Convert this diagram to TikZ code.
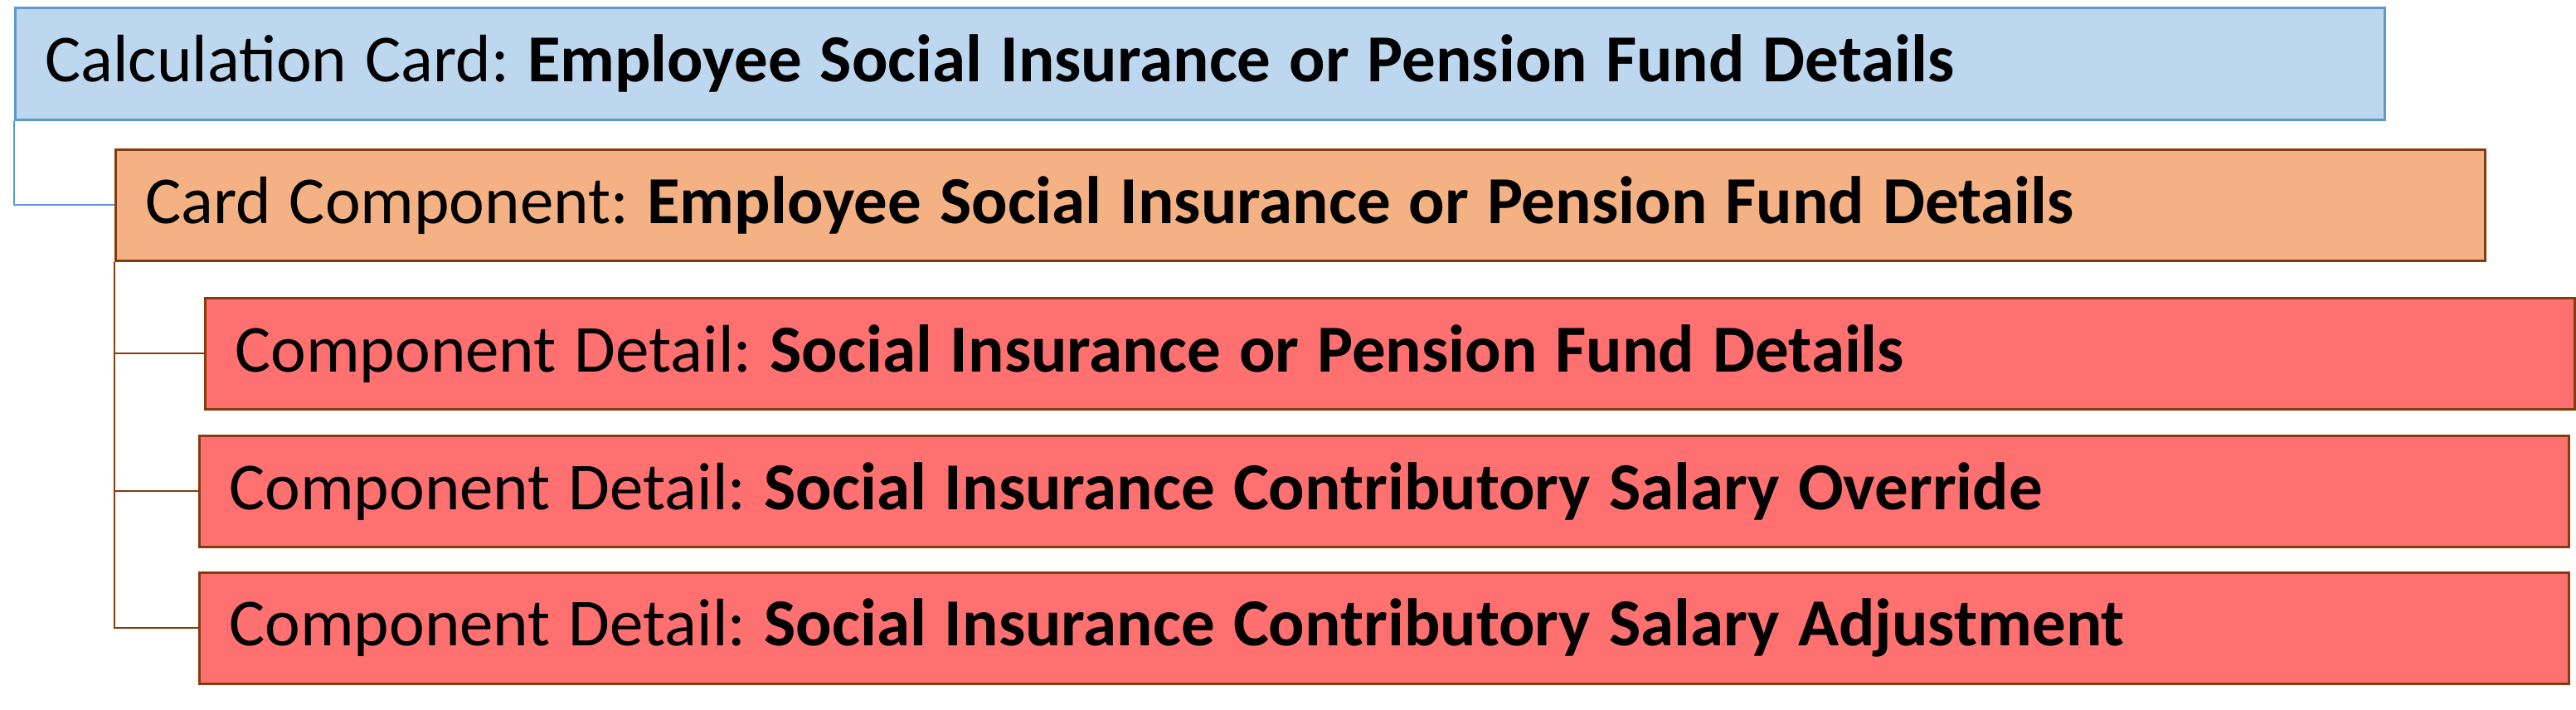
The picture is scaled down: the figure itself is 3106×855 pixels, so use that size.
\documentclass[tikz,border=0pt]{standalone}
\usepackage{fontspec}
\setmainfont{Carlito}
\definecolor{bluefill}{HTML}{BDD7EE}
\definecolor{blueline}{HTML}{5B9BD5}
\definecolor{orangefill}{HTML}{F4B183}
\definecolor{brownline}{HTML}{843C0C}
\definecolor{redfill}{HTML}{FF7171}
\newcommand\cardfont{\fontsize{81}{97}\selectfont}
\newcommand\cardspace{\spaceskip=22pt\relax\xspaceskip=22pt\relax}
\begin{document}
\frenchspacing
\begin{tikzpicture}[x=1pt,y=-1pt,
  card/.style={draw, line width=2.5pt, anchor=north west, minimum height=134pt,
    text width=2785pt, inner xsep=36pt, inner ysep=0pt, align=left,
    font=\cardfont, execute at begin node=\cardspace},
  calcbox/.style={card, fill=bluefill, draw=blueline},
  compbox/.style={card, fill=orangefill, draw=brownline},
  detbox/.style={card, fill=redfill, draw=brownline},
  bluelink/.style={draw=blueline, line width=1.8pt},
  brownlink/.style={draw=brownline, line width=1.8pt}]
\useasboundingbox (0,0) rectangle (3106,855);
\node[calcbox, minimum height=135pt] (b1) at (17,8) {Calculation Card: \textbf{Employee Social Insurance or Pension Fund Details}};
\node[compbox] (b2) at (138,179) {Card Component: \textbf{Employee Social Insurance or Pension Fund Details}};
\node[detbox] (d1) at (246,358) {Component Detail: \textbf{Social Insurance or Pension Fund Details}};
\node[detbox] (d2) at (239,524) {Component Detail: \textbf{Social Insurance Contributory Salary Override}};
\node[detbox] (d3) at (239,689) {Component Detail: \textbf{Social Insurance Contributory Salary Adjustment}};
\draw[bluelink] (b1.south west) |- (b2.west);
\draw[brownlink] (b2.south west) |- (d1.west);
\draw[brownlink] (b2.south west) |- (d2.west);
\draw[brownlink] (b2.south west) |- (d3.west);
\end{tikzpicture}
\end{document}
